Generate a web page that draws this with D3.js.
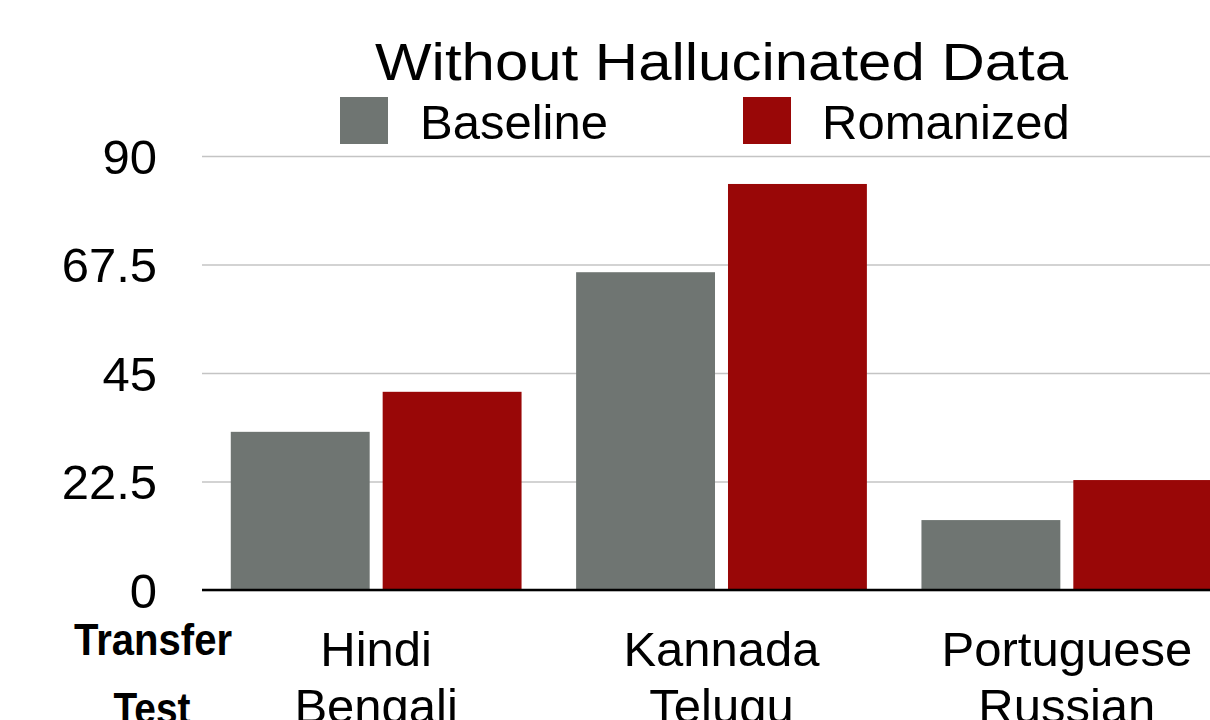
<!DOCTYPE html>
<html>
<head>
<meta charset="utf-8">
<script src="https://cdn.jsdelivr.net/npm/d3@7"></script>
<style>
  html, body { margin: 0; padding: 0; background: #fff; }
  svg { display: block; font-family: "Liberation Sans", Arial, Helvetica, sans-serif; }
</style>
</head>
<body>
<svg id="chart" width="1210" height="720"></svg>
<script>
// Transfer languages (first label row) and test languages (second row)
const transferLangs = ["Hindi", "Kannada", "Portuguese"];
const testLangs = ["Bengali", "Telugu", "Russian"];
const seriesNames = ["Baseline", "Romanized"];
const baselineValues = [32.8, 65.9, 14.5];
const romanizedValues = [41.1, 84.2, 22.8];
const yTicks = [0, 22.5, 45, 67.5, 90];
const chartTitle = "Without Hallucinated Data";

const colors = { Baseline: "#6f7572", Romanized: "#990707" };

const W = 1210, H = 720;
const plotLeft = 202, plotRight = 1210;
const svg = d3.select("#chart");

const rows = transferLangs.map((t, i) => ({
  transfer: t,
  test: testLangs[i],
  values: { Baseline: baselineValues[i], Romanized: romanizedValues[i] }
}));

const y = d3.scaleLinear().domain([0, 90]).range([590, 156]);

const x0 = d3.scaleBand()
  .domain(transferLangs)
  .range([203.5, 1239.5])
  .paddingInner(0.158)
  .paddingOuter(0.079);

const x1 = d3.scaleBand()
  .domain(seriesNames)
  .range([0, x0.bandwidth()])
  .paddingInner(0.0855)
  .paddingOuter(0);

// Y axis with gridlines
const yAxis = d3.axisLeft(y)
  .tickValues(yTicks)
  .tickSize(-(plotRight - plotLeft))
  .tickPadding(45)
  .tickFormat(d => String(d));

const gy = svg.append("g")
  .attr("transform", `translate(${plotLeft},0)`)
  .call(yAxis);
gy.select(".domain").remove();
gy.selectAll(".tick line")
  .attr("stroke", "#c4c4c4")
  .attr("stroke-width", 1.5);
gy.selectAll(".tick text")
  .attr("fill", "#000")
  .attr("font-size", 49)
  .attr("dy", "0.35em")
  .style("font-family", "'Liberation Sans', Arial, sans-serif");

// Bars
const groups = svg.append("g").selectAll("g")
  .data(rows)
  .join("g")
  .attr("transform", d => `translate(${x0(d.transfer)},0)`);

groups.selectAll("rect")
  .data(d => seriesNames.map(s => ({ series: s, value: d.values[s] })))
  .join("rect")
  .attr("x", d => x1(d.series))
  .attr("width", x1.bandwidth())
  .attr("y", d => y(d.value))
  .attr("height", d => y(0) - y(d.value))
  .attr("fill", d => colors[d.series]);

// Baseline axis line
svg.append("line")
  .attr("x1", plotLeft).attr("x2", plotRight)
  .attr("y1", y(0)).attr("y2", y(0))
  .attr("stroke", "#000")
  .attr("stroke-width", 2.5);

// Title
svg.append("text")
  .attr("x", 375)
  .attr("y", 80)
  .attr("font-size", 51)
  .attr("fill", "#000")
  .attr("textLength", 693)
  .attr("lengthAdjust", "spacingAndGlyphs")
  .text(chartTitle);

// Legend
const legendItems = [
  { name: "Baseline", sx: 340, tx: 420 },
  { name: "Romanized", sx: 743, tx: 822 }
];
const lg = svg.append("g");
lg.selectAll("rect")
  .data(legendItems)
  .join("rect")
  .attr("x", d => d.sx)
  .attr("y", 97)
  .attr("width", 48)
  .attr("height", 47)
  .attr("fill", d => colors[d.name]);
lg.selectAll("text")
  .data(legendItems)
  .join("text")
  .attr("x", d => d.tx)
  .attr("y", 139)
  .attr("font-size", 49)
  .attr("fill", "#000")
  .text(d => d.name);

// Row headers
svg.append("text")
  .attr("x", 153).attr("y", 655)
  .attr("text-anchor", "middle")
  .attr("font-size", 44)
  .attr("font-weight", "bold")
  .attr("textLength", 158)
  .attr("lengthAdjust", "spacingAndGlyphs")
  .text("Transfer");
svg.append("text")
  .attr("x", 152).attr("y", 724)
  .attr("text-anchor", "middle")
  .attr("font-size", 44)
  .attr("font-weight", "bold")
  .attr("textLength", 77)
  .attr("lengthAdjust", "spacingAndGlyphs")
  .text("Test");

// Category labels
const catLabels = svg.append("g").selectAll("g")
  .data(rows)
  .join("g")
  .attr("transform", d => `translate(${x0(d.transfer) + x0.bandwidth() / 2},0)`);
catLabels.append("text")
  .attr("y", 666)
  .attr("text-anchor", "middle")
  .attr("font-size", 49)
  .text(d => d.transfer);
catLabels.append("text")
  .attr("y", 723)
  .attr("text-anchor", "middle")
  .attr("font-size", 49)
  .text(d => d.test);
</script>
</body>
</html>
